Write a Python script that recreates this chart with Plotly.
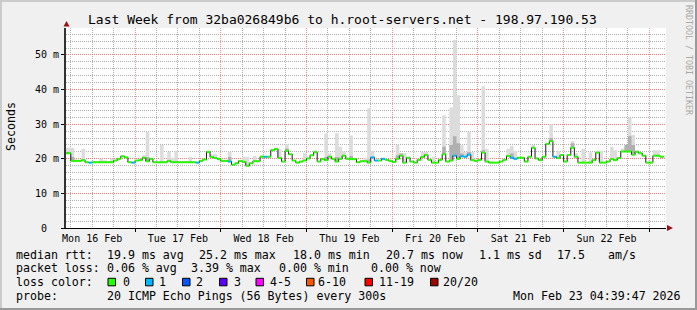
import plotly.graph_objects as go
import pandas as pd

# ---------------- data ----------------
hours = pd.date_range("2026-02-16 04:00", periods=169, freq="h")
x_range = ["2026-02-16 04:39:47", "2026-02-23 04:39:47"]

median_ms = [
    21.6, 21.6, 19.4, 19.4, 19.4, 19.6, 19.0, 18.9, 19.0, 19.0, 19.0, 19.0,
    19.0, 19.0, 19.5, 20.0, 20.7, 20.4, 19.0, 18.9, 19.5, 19.6, 20.3, 19.3,
    20.0, 19.0, 19.0, 19.0, 19.0, 19.4, 19.0, 19.0, 19.0, 19.0, 19.0, 19.0,
    19.0, 18.9, 19.4, 19.8, 22.0, 20.5, 20.2, 19.9, 19.4, 19.4, 19.2, 18.3,
    18.7, 19.4, 19.1, 18.0, 18.7, 19.3, 19.3, 20.6, 20.6, 20.6, 22.5, 22.8,
    20.2, 19.2, 22.3, 21.3, 19.5, 18.9, 19.2, 19.5, 20.1, 21.0, 21.9, 19.2,
    19.9, 19.6, 20.6, 20.0, 19.2, 20.0, 20.9, 20.0, 19.9, 19.9, 19.0, 19.3,
    19.3, 18.9, 20.4, 19.5, 19.5, 20.0, 19.7, 19.4, 19.1, 20.0, 20.9, 18.9,
    20.3, 19.2, 18.9, 19.7, 20.5, 21.1, 19.7, 18.9, 18.9, 19.7, 21.3, 19.2,
    19.5, 20.9, 20.0, 20.7, 20.6, 21.2, 19.6, 19.4, 19.7, 21.8, 19.2, 18.9,
    18.9, 18.9, 19.2, 19.7, 20.8, 20.3, 20.0, 20.3, 20.3, 19.2, 20.6, 23.2,
    20.1, 19.6, 20.6, 24.3, 25.1, 20.6, 20.2, 21.1, 19.2, 21.1, 23.2, 20.6,
    18.9, 18.9, 18.9, 18.9, 19.6, 21.8, 18.9, 18.9, 19.2, 19.9, 19.6, 20.2,
    22.1, 22.1, 22.1, 21.2, 22.0, 21.6, 20.9, 18.9, 18.9, 20.9, 20.9, 20.6, 20.7,
]

# hours (index into `hours`) that lost one ping out of 20
loss_one_idx = [7, 19, 37, 46, 56, 86, 87, 89, 109, 111, 112, 113, 125, 126, 137]

# smoke: highest ping of the hour (light grey) where it rises above the median
smoke_idx = [0, 1, 2, 3, 5, 10, 11, 13, 16, 22, 23, 27, 29, 30, 31, 35, 41, 42,
             46, 50, 51, 53, 55, 59, 60, 62, 67, 70, 73, 74, 76, 77, 78, 80, 84,
             85, 86, 93, 94, 95, 100, 101, 103, 106, 108, 109, 110, 111, 112,
             113, 114, 117, 118, 124, 125, 126, 131, 136, 138, 142, 143, 145,
             147, 149, 150, 153, 154, 156, 157, 158, 159, 160, 165, 166]
smoke_top = [23.2, 23.2, 23.2, 19.8, 22.8, 20.0, 19.6, 20.0, 21.1, 21.0, 27.8,
             24.0, 22.0, 20.3, 22.3, 20.6, 21.3, 21.3, 22.1, 20.6, 20.6, 20.8,
             21.0, 23.3, 22.8, 24.3, 21.6, 22.5, 27.4, 21.6, 27.4, 23.5, 22.1,
             26.7, 20.2, 34.6, 22.2, 24.0, 21.6, 21.6, 22.0, 22.0, 20.6, 32.6,
             34.8, 54.3, 38.4, 23.9, 22.0, 27.8, 22.0, 41.0, 22.8, 22.8, 23.8,
             22.3, 24.0, 30.0, 22.3, 25.1, 21.7, 22.8, 21.9, 22.3, 22.3, 23.5,
             22.5, 23.0, 23.0, 31.9, 26.9, 22.5, 22.5, 22.5]
# darker smoke (pings close to the median)
dark_idx = [0, 1, 2, 23, 46, 62, 73, 76, 80, 85, 93, 94, 106, 108, 109, 110,
            111, 113, 117, 125, 136, 142, 157, 158, 159]
dark_top = [22.0, 22.0, 20.5, 20.5, 20.5, 23.0, 20.5, 20.5, 20.8, 19.8, 21.0,
            21.5, 23.5, 24.0, 26.5, 24.5, 21.5, 22.0, 22.5, 21.5, 26.0, 24.5,
            24.0, 26.5, 24.0]

y_tick_vals = [0, 10, 20, 30, 40, 50]
y_tick_text = ["0\u00a0\u00a0", "10 m", "20 m", "30 m", "40 m", "50 m"]

title_text = "Last Week from 32ba026849b6 to h.root-servers.net - 198.97.190.53"
legend_rows = [
    # (x pixel, row, text)
    (16, 0, "median rtt:"), (106.5, 0, "19.9 ms avg"), (199.3, 0, "25.2 ms max"),
    (292.5, 0, "18.0 ms min"), (386, 0, "20.7 ms now"), (479.3, 0, "1.1 ms sd"),
    (556.5, 0, "17.5"), (607.6, 0, "am/s"),
    (16, 1, "packet loss:"), (106.5, 1, "0.06 % avg"), (191.3, 1, "3.39 % max"),
    (278.6, 1, "0.00 % min"), (371, 1, "0.00 % now"),
    (16, 2, "loss color:"),
    (16, 3, "probe:"), (106.5, 3, "20 ICMP Echo Pings (56 Bytes) every 300s"),
    (512.6, 3, "Mon Feb 23 04:39:47 2026"),
]
loss_labels = ["0", "1", "2", "3", "4-5", "6-10", "11-19", "20/20"]
loss_colors = ["#26ff00", "#00b8ff", "#0059ff", "#5e00ff", "#ff00ff",
               "#ff5500", "#ff0000", "#a10000"]
loss_box_x = [108, 145.5, 182.5, 219.5, 256, 306.5, 365, 430.5]
loss_text_x = [122.6, 159.3, 196, 233.6, 270, 317.6, 379.3, 442.6]

# ---------------- geometry ----------------
W, H = 697, 310
L, T, PW, PH = 66, 28, 600, 200
MONO = "DejaVu Sans Mono"


def px(x):
    return (x - L) / PW


def py(y):
    return (T + PH - y) / PH


row_y = [254.5, 268.0, 282.0, 295.5]

loss = [0] * len(hours)
for i in loss_one_idx:
    loss[i] = 1
smoke_hi = list(median_ms)
for i, v in zip(smoke_idx, smoke_top):
    smoke_hi[i] = v
dark_hi = list(median_ms)
for i, v in zip(dark_idx, dark_top):
    dark_hi[i] = v

fig = go.Figure()
step = dict(width=0, shape="hv")
fig.add_trace(go.Scatter(x=hours, y=median_ms, mode="lines", line=step,
                         hoverinfo="skip"))
fig.add_trace(go.Scatter(x=hours, y=smoke_hi, mode="lines", line=step,
                         fill="tonexty", fillcolor="#dcdcdc", hoverinfo="skip"))
fig.add_trace(go.Scatter(x=hours, y=median_ms, mode="lines", line=step,
                         hoverinfo="skip"))
fig.add_trace(go.Scatter(x=hours, y=dark_hi, mode="lines", line=step,
                         fill="tonexty", fillcolor="#b0b0b0", hoverinfo="skip"))
fig.add_trace(go.Scatter(x=hours, y=median_ms, mode="lines",
                         line=dict(width=1, shape="hv", color="#1a1a1a"),
                         hoverinfo="skip"))
for level in (0, 1):
    xs, ys = [], []
    for i in range(len(hours) - 1):
        if loss[i] == level:
            xs += [hours[i], hours[i + 1], None]
            ys += [median_ms[i], median_ms[i], None]
    fig.add_trace(go.Scatter(x=xs, y=ys, mode="lines",
                             line=dict(width=2, color=loss_colors[level]),
                             hoverinfo="skip"))

minor_grid = "rgba(150,150,150,0.75)"
major_grid = "rgba(255,110,110,0.75)"
fig.update_layout(
    width=W, height=H, margin=dict(l=L, r=W - L - PW, t=T, b=H - T - PH),
    paper_bgcolor="#f0f0f0", plot_bgcolor="#ffffff", showlegend=False,
    font=dict(family=MONO, size=10, color="#000000"), hovermode=False,
)
fig.update_xaxes(
    type="date", range=x_range, tick0="2026-02-16", dtick=86400000,
    tickformat="%a %d %b", ticklabelmode="period", ticklabelstandoff=-2,
    showgrid=True, gridcolor=major_grid, griddash="1px,1px", gridwidth=1,
    minor=dict(dtick=6 * 3600000, showgrid=True, gridcolor=minor_grid,
               griddash="1px,1px", gridwidth=1),
    ticks="outside", ticklen=3, tickcolor="#000000",
    showline=True, linecolor="#000000", linewidth=1, zeroline=False,
)
fig.update_yaxes(
    range=[0, 57.8], tickvals=y_tick_vals, ticktext=y_tick_text,
    showgrid=True, gridcolor=major_grid, griddash="1px,1px", gridwidth=1,
    minor=dict(tick0=0, dtick=2, showgrid=True, gridcolor=minor_grid,
               griddash="1px,1px", gridwidth=1),
    ticks="outside", ticklen=3, tickcolor="#000000",
    showline=True, linecolor="#333333", linewidth=2, zeroline=False,
)

shapes = []
# frame (3D border)
shapes.append(dict(type="rect", xref="paper", yref="paper", x0=px(0), x1=px(W),
                   y0=py(0), y1=py(2), fillcolor="#cbcbcb", line=dict(width=0)))
shapes.append(dict(type="rect", xref="paper", yref="paper", x0=px(0), x1=px(2),
                   y0=py(0), y1=py(H), fillcolor="#cbcbcb", line=dict(width=0)))
shapes.append(dict(type="rect", xref="paper", yref="paper", x0=px(0), x1=px(W),
                   y0=py(H - 2), y1=py(H), fillcolor="#999999", line=dict(width=0)))
shapes.append(dict(type="rect", xref="paper", yref="paper", x0=px(W - 2), x1=px(W),
                   y0=py(0), y1=py(H), fillcolor="#999999", line=dict(width=0)))
# axis arrows
shapes.append(dict(type="path", xref="paper", yref="paper",
                   path=f"M {px(63.5)},{py(26.5)} L {px(66.5)},{py(21)} L {px(69.5)},{py(26.5)} Z",
                   fillcolor="#9b1010", line=dict(width=0)))
shapes.append(dict(type="path", xref="paper", yref="paper",
                   path=f"M {px(667)},{py(225)} L {px(673)},{py(228)} L {px(667)},{py(231)} Z",
                   fillcolor="#9b1010", line=dict(width=0)))
# loss colour boxes
for bx, col in zip(loss_box_x, loss_colors):
    shapes.append(dict(type="rect", xref="paper", yref="paper",
                       x0=px(bx), x1=px(bx + 7.5), y0=py(278.3), y1=py(285.8),
                       fillcolor=col, line=dict(color="#000000", width=1)))
fig.update_layout(shapes=shapes)

ann = []
ann.append(dict(text=title_text, x=px(87.5), y=py(19), xanchor="left",
                yanchor="middle", font=dict(family=MONO, size=13)))
ann.append(dict(text="Seconds", x=px(10.5), y=py(126.5), xanchor="center",
                yanchor="middle", textangle=-90, font=dict(family=MONO, size=11.6)))
ann.append(dict(text="RRDTOOL / TOBI OETIKER", x=px(689), y=py(60),
                xanchor="center", yanchor="middle", textangle=90,
                font=dict(family=MONO, size=8.3, color="#a8a8a8")))
for xp, r, t in legend_rows:
    ann.append(dict(text=t, x=px(xp), y=py(row_y[r]), xanchor="left",
                    yanchor="middle", font=dict(family=MONO, size=11.6)))
for xp, t in zip(loss_text_x, loss_labels):
    ann.append(dict(text=t, x=px(xp), y=py(row_y[2]), xanchor="left",
                    yanchor="middle", font=dict(family=MONO, size=11.6)))
for a in ann:
    a.update(xref="paper", yref="paper", showarrow=False, borderpad=0,
             borderwidth=0)
fig.update_layout(annotations=ann)

fig.write_html("out.html")
